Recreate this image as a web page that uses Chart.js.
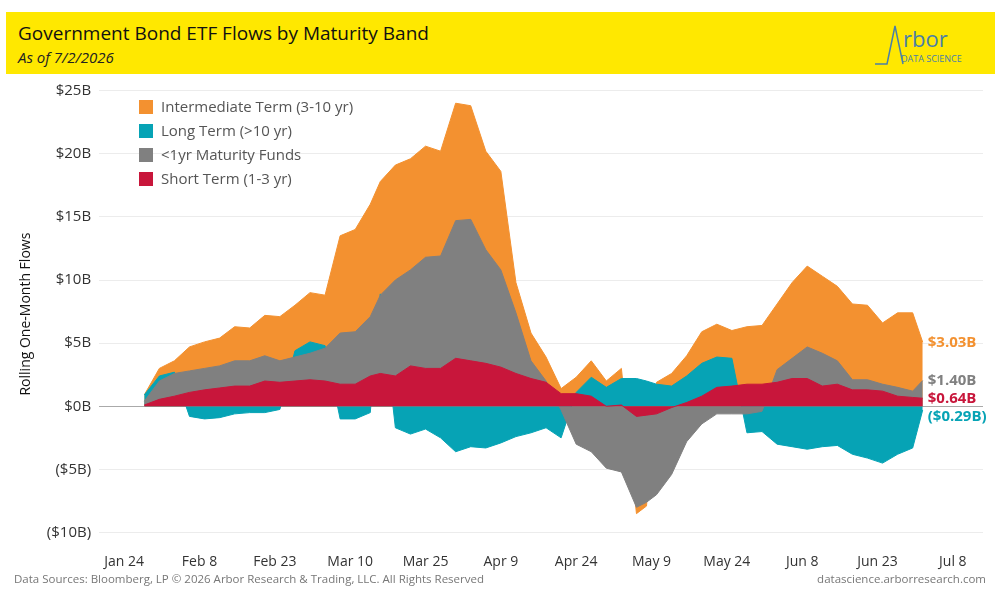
<!DOCTYPE html>
<html>
<head>
<meta charset="utf-8">
<script src="https://cdn.jsdelivr.net/npm/chart.js@4.4.0/dist/chart.umd.min.js"></script>
<style>
  body { margin: 0; width: 1000px; height: 600px; background: #fff; font-family: "Open Sans", sans-serif; position: relative; overflow: hidden; }
  #head { position: absolute; left: 6px; top: 12px; width: 989px; height: 62px; background: #ffe800; }
  #title { position: absolute; left: 12px; top: 8px; font-size: 19px; color: #111; }
  #sub { position: absolute; left: 12px; top: 35px; font-size: 15px; font-style: italic; color: #222; }
  #logo { position: absolute; right: 12px; top: 8px; }
  #legend { position: absolute; left: 139px; top: 95px; font-size: 15px; color: #555; }
  #legend div { height: 24px; line-height: 22px; }
  #legend span { display: inline-block; width: 14px; height: 14px; margin-right: 8px; vertical-align: -2px; }
  #foot1 { position: absolute; left: 14px; top: 571px; font-size: 11.5px; color: #777; }
  #foot2 { position: absolute; right: 14px; top: 571px; font-size: 11.5px; color: #777; }
  canvas { position: absolute; left: 0; top: 0; }
</style>
</head>
<body>
<canvas id="flows" width="1000" height="600"></canvas>
<div id="head">
  <div id="title">Government Bond ETF Flows by Maturity Band</div>
  <div id="sub">As of 7/2/2026</div>
  <svg id="logo" width="110" height="50" viewBox="0 0 110 50">
    <polyline points="2,44 14,44 22,6 30,44" fill="none" stroke="#4a7fa8" stroke-width="1.5"/>
    <text x="30" y="27" font-size="22" fill="#4a7fa8" font-family="Open Sans">rbor</text>
    <text x="28" y="42" font-size="9" fill="#4a7fa8" font-family="Open Sans">DATA SCIENCE</text>
  </svg>
</div>
<div id="legend">
  <div><span style="background:#f39130"></span>Intermediate Term (3-10 yr)</div>
  <div><span style="background:#06a3b5"></span>Long Term (&gt;10 yr)</div>
  <div><span style="background:#808080"></span>&lt;1yr Maturity Funds</div>
  <div><span style="background:#c8163b"></span>Short Term (1-3 yr)</div>
</div>
<div id="foot1">Data Sources: Bloomberg, LP © 2026 Arbor Research &amp; Trading, LLC. All Rights Reserved</div>
<div id="foot2">datascience.arborresearch.com</div>
<script>
// day of year 2026
const days = [28,31,34,37,40,43,46,49,52,55,58,61,64,67,70,73,75,78,81,84,87,90,93,96,99,102,105,108,111,114,117,120,123,126,128,130,133,136,139,142,145,148,151,154,157,160,163,166,169,172,175,178,181,183];
// $B rolling one-month flows
const shortTerm = [0.1,0.55,0.8,1.1,1.3,1.45,1.6,1.6,2.0,1.9,2.0,2.1,2.0,1.75,1.75,2.4,2.6,2.4,3.2,3.0,3.0,3.8,3.6,3.4,3.1,2.6,2.2,1.9,1.0,1.0,0.8,0.0,0.1,-0.8,-0.7,-0.6,-0.1,0.3,0.8,1.5,1.6,1.75,1.75,1.9,2.2,2.2,1.6,1.75,1.3,1.3,1.2,0.8,0.7,0.64];
const underOne = [0.3,1.45,1.8,1.7,1.7,1.75,2.0,2.0,2.0,1.7,1.9,2.1,2.6,4.05,4.15,4.7,6.2,7.6,7.6,8.8,8.9,10.9,11.2,9.0,7.7,4.8,1.4,0.1,-0.3,-3.0,-3.6,-4.9,-5.2,-7.2,-6.9,-6.4,-5.3,-2.8,-1.4,-0.6,-0.6,-0.6,-0.4,1.0,1.6,2.5,2.6,1.85,0.8,0.8,0.55,0.7,0.5,1.40];
const longTerm = [0.5,0.4,0.1,-0.8,-1.0,-0.9,-0.6,-0.5,-0.5,-0.25,0.5,0.9,0.2,-1.0,-1.0,-0.5,0.1,-1.7,-2.2,-1.8,-2.5,-3.6,-3.2,-3.3,-2.9,-2.4,-2.1,-1.7,-2.2,0.1,1.5,1.5,2.1,2.2,2.0,1.75,1.6,2.1,2.6,2.4,2.2,-1.5,-1.6,-3.0,-3.2,-3.4,-3.2,-3.1,-3.8,-4.1,-4.5,-3.8,-3.3,-0.29];
const intermediate = [0.0,0.6,0.9,1.9,2.1,2.2,2.7,2.6,3.2,3.5,3.6,3.9,4.0,7.7,8.1,8.9,8.9,9.1,8.8,8.8,8.3,9.3,9.0,7.8,7.8,2.4,2.2,1.9,0.4,1.2,1.3,0.5,0.8,-0.5,-0.3,0.15,1.0,1.6,2.5,2.6,2.2,4.55,4.65,5.2,6.0,6.4,6.1,5.9,6.0,5.9,4.85,5.9,6.2,3.03];
const tickDays = [24,39,54,69,84,99,114,129,144,159,174,189];
const monthNames = ['Jan','Feb','Mar','Apr','May','Jun','Jul','Aug'];
const monthStarts = [1,32,60,91,121,152,182,213];

function dayLabel(d) {
  let m = 0;
  while (m < 7 && d >= monthStarts[m + 1]) m++;
  return monthNames[m] + ' ' + (d - monthStarts[m] + 1);
}
function money(v) {
  const s = '$' + Math.abs(v).toFixed(2) + 'B';
  return v < 0 ? '(' + s + ')' : s;
}

function series(label, vals, color) {
  return {
    label: label,
    data: days.map((d, i) => ({ x: d, y: vals[i] })),
    backgroundColor: color,
    borderColor: color,
    borderWidth: 1,
    pointRadius: 0,
    tension: 0,
    fill: 'origin'
  };
}

const endLabels = {
  id: 'endLabels',
  afterDatasetsDraw(chart) {
    const x = chart.scales.x, y = chart.scales.y, c = chart.ctx;
    const n = days.length - 1;
    const r = shortTerm[n], g = underOne[n], t = longTerm[n], o = intermediate[n];
    const items = [
      { v: o, cum: r + g + o, color: '#f39130' },
      { v: g, cum: r + g, color: '#808080' },
      { v: r, cum: r, color: '#c8163b' },
      { v: t, cum: t, color: '#06a3b5' }
    ];
    let prev = -1e9;
    c.save();
    c.font = 'bold 15px "Open Sans"';
    c.textBaseline = 'middle';
    items.forEach(it => {
      let py = y.getPixelForValue(it.cum);
      if (py < prev + 18) py = prev + 18;
      prev = py;
      c.fillStyle = it.color;
      c.fillText(money(it.v), x.getPixelForValue(days[n]) + 5, py);
    });
    c.restore();
  }
};

new Chart(document.getElementById('flows').getContext('2d'), {
  type: 'line',
  plugins: [endLabels],
  data: {
    datasets: [
      series('Short Term (1-3 yr)', shortTerm, '#c8163b'),
      series('<1yr Maturity Funds', underOne, '#808080'),
      series('Long Term (>10 yr)', longTerm, '#06a3b5'),
      series('Intermediate Term (3-10 yr)', intermediate, '#f39130')
    ]
  },
  options: {
    responsive: false,
    animation: false,
    layout: { padding: { top: 83, bottom: 30, left: 14, right: 17 } },
    plugins: { legend: { display: false }, tooltip: { enabled: false } },
    scales: {
      x: {
        type: 'linear', min: 19, max: 195,
        afterBuildTicks: s => { s.ticks = tickDays.map(v => ({ value: v })); },
        ticks: { callback: v => dayLabel(v), color: '#333', font: { size: 14, family: 'Open Sans' }, maxRotation: 0, padding: 0 },
        grid: { display: false },
        border: { display: false }
      },
      y: {
        stacked: true, min: -11, max: 25.6,
        afterBuildTicks: s => { s.ticks = [-10,-5,0,5,10,15,20,25].map(v => ({ value: v })); },
        ticks: { callback: v => money(v).replace('.00', ''), color: '#333', font: { size: 15, family: 'Open Sans' }, padding: 8 },
        grid: {
          color: c => c.tick && c.tick.value === 0 ? '#aaa' : '#ececec',
          drawTicks: false
        },
        border: { display: false },
        title: { display: true, text: 'Rolling One-Month Flows', color: '#111', font: { size: 14, family: 'Open Sans' } }
      }
    }
  }
});
</script>
</body>
</html>
